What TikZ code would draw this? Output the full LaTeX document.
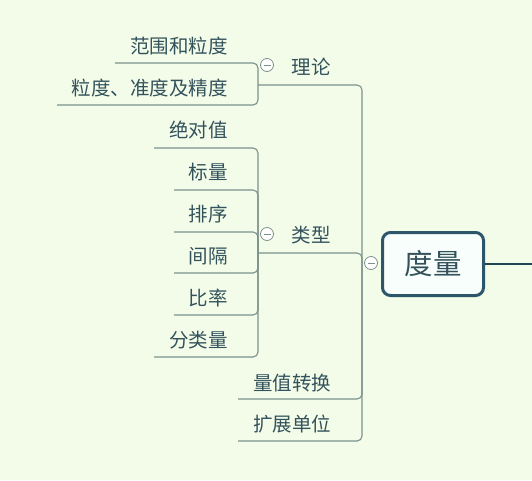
\documentclass[tikz,border=0pt]{standalone}
\usepackage{fontspec}
\newfontfamily\cjk{Noto Sans CJK SC}
\definecolor{bgc}{HTML}{F2FCE9}
\definecolor{linec}{HTML}{7D918C}
\definecolor{txtc}{HTML}{34525C}
\definecolor{boxc}{HTML}{2D566B}
\definecolor{boxfill}{HTML}{F8FEFB}
\begin{document}
\begin{tikzpicture}[x=1pt,y=-1pt,
  leaf/.style={font=\cjk\fontsize{19.5}{22}\selectfont, text=txtc, inner sep=0pt, anchor=east},
  mid/.style={font=\cjk\fontsize{19.5}{22}\selectfont, text=txtc, inner sep=0pt},
  conn/.style={draw=linec, line width=1.1pt, rounded corners=5pt},
  fold/.style={circle, draw=linec, fill=white, line width=0.8pt, minimum size=13pt, inner sep=0pt,
    path picture={\draw[linec, line width=0.7pt] ([xshift=-3.5pt]path picture bounding box.center) -- ([xshift=3.5pt]path picture bounding box.center);}}
]
\useasboundingbox (0,0) rectangle (532,480);
\fill[bgc] (0,0) rectangle (532,480);

% central node
\node[draw=boxc, line width=3pt, fill=boxfill, rounded corners=8pt, minimum width=101pt, minimum height=63pt,
  font=\cjk\fontsize{28.5}{32}\selectfont, text=txtc] (root) at (433,264) {度量};
\coordinate (rootR) at (532,264);
\draw[boxc!80!black, line width=1.2pt] (root.east) -- (rootR);

% junction on trunk
\coordinate (j) at (362,263);

% level 1 texts
\node[mid] (lilun) at (311,67) {理论};
\node[mid] (leixing) at (311,235) {类型};
\node[mid] (lzzh) at (292,383) {量值转换};
\node[mid] (kzdw) at (292,424) {扩展单位};

% level 1 underline endpoints
\coordinate (lilunL) at (258,85);
\coordinate (leixingL) at (258,253);
\coordinate (lzzhL) at (238,399);
\coordinate (kzdwL) at (238,441);

\draw[conn] (j) |- (lilunL);
\draw[conn] (j) |- (leixingL);
\draw[conn] (j) |- (lzzhL);
\draw[conn] (j) |- (kzdwL);

\node[fold] (rootfold) at (371,263) {};

% 理论 children
\node[leaf] (fw) at (228,46) {范围和粒度};
\node[leaf] (ld) at (228,88) {粒度、准度及精度};
\coordinate (fwL) at (115,63);
\coordinate (ldL) at (57,105);
\draw[conn] (lilunL) |- (fwL);
\draw[conn] (lilunL) |- (ldL);
\node[fold] (lilunfold) at (267,65) {};

% 类型 children
\node[leaf] (jdz) at (228,130) {绝对值};
\node[leaf] (bl) at (228,172) {标量};
\node[leaf] (px) at (228,214) {排序};
\node[leaf] (jg) at (228,256) {间隔};
\node[leaf] (bv) at (228,298) {比率};
\node[leaf] (flz) at (228,340) {分类量};
\coordinate (jdzL) at (154,148);
\coordinate (blL) at (174,190);
\coordinate (pxL) at (174,232);
\coordinate (jgL) at (174,273);
\coordinate (bvL) at (174,315);
\coordinate (flzL) at (154,357);
\foreach \c in {jdzL,blL,pxL,jgL,bvL,flzL}
  \draw[conn] (leixingL) |- (\c);
\node[fold] (leixingfold) at (267,234) {};
\end{tikzpicture}
\end{document}
